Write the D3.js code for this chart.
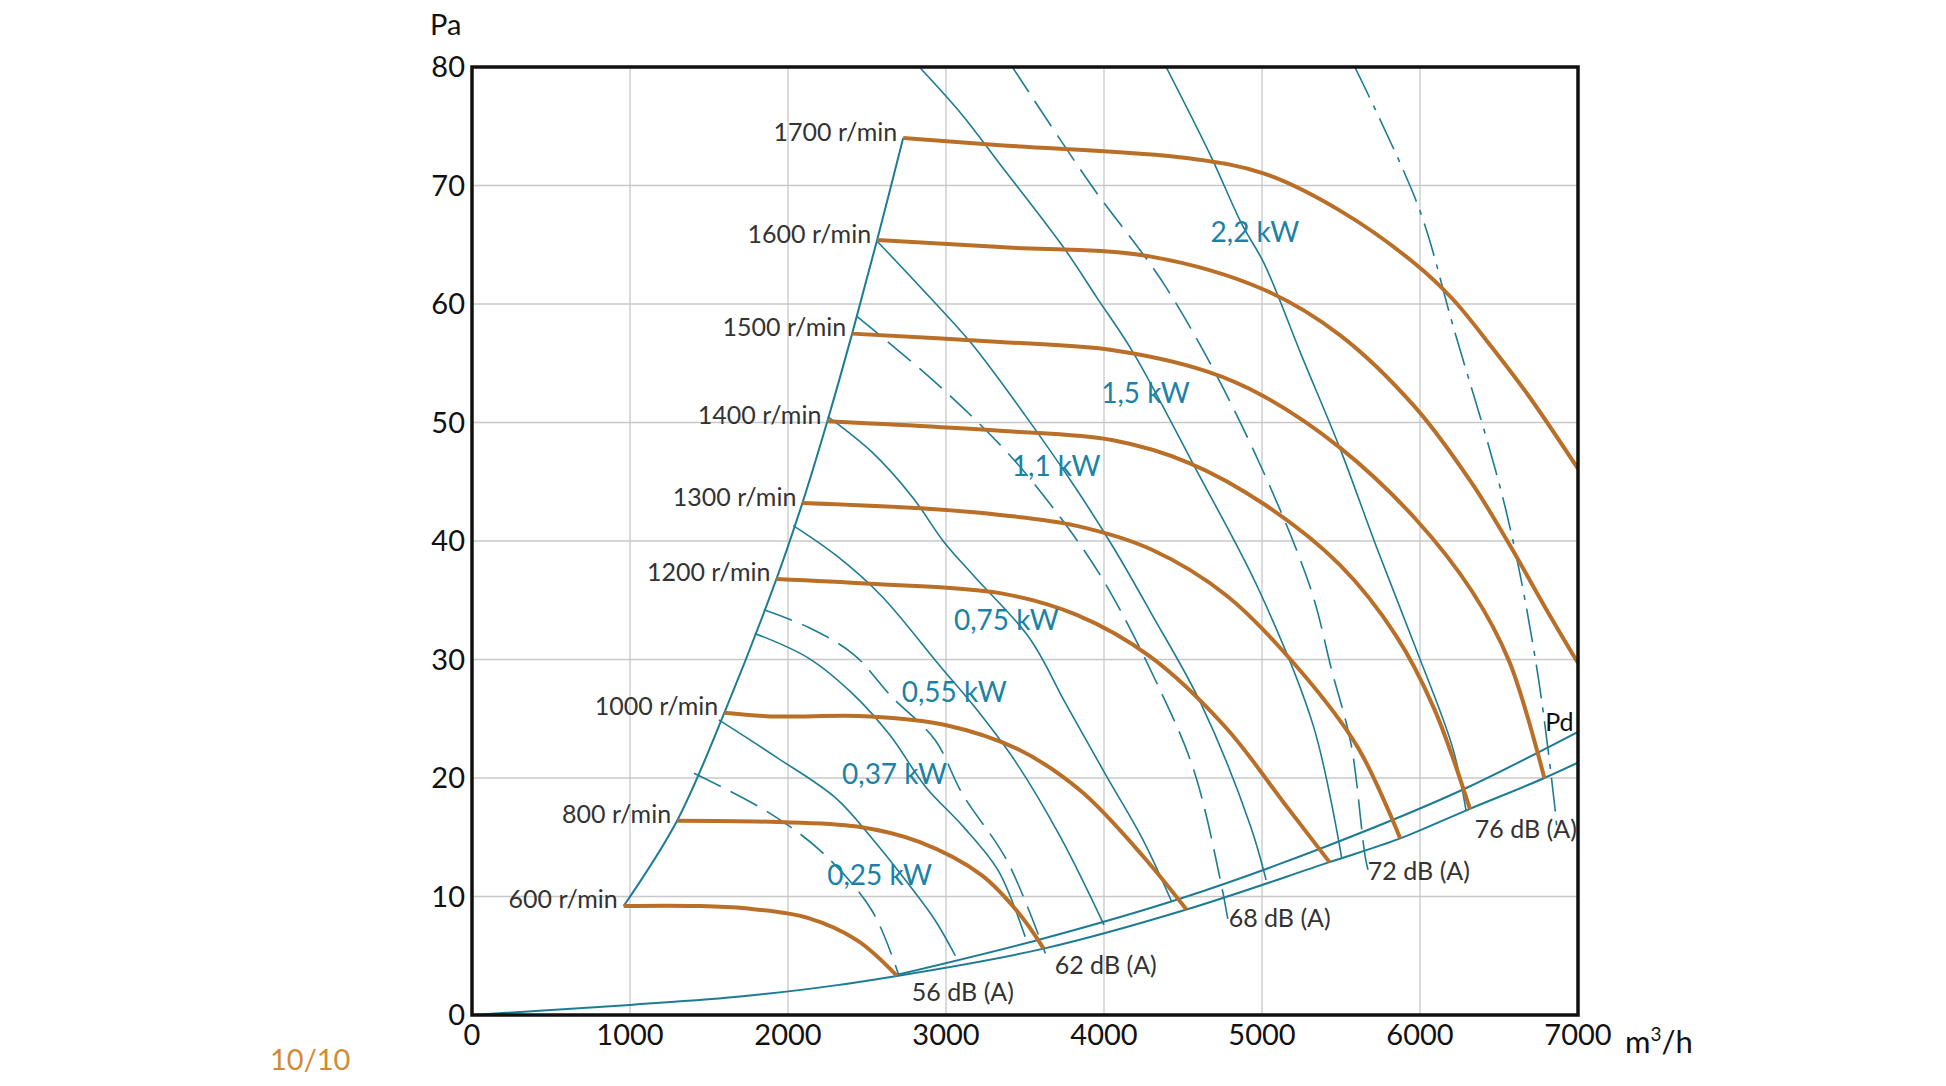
<!DOCTYPE html>
<html><head><meta charset="utf-8">
<script src="https://cdn.jsdelivr.net/npm/d3@7"></script>
<style>body{margin:0;background:#fff}svg{display:block}text{font-family:Lato,"Noto Sans",sans-serif}</style>
</head><body><svg id="c" width="1946" height="1086"></svg>
<script>
// ---- data ----
const xTicks=[0,1000,2000,3000,4000,5000,6000,7000];
const yTicks=[0,10,20,30,40,50,60,70,80];
const speeds=["600 r/min","800 r/min","1000 r/min","1200 r/min","1300 r/min","1400 r/min","1500 r/min","1600 r/min","1700 r/min"];
const rpm600=[[960,9.2],[1416,9.2],[1730,9.0],[2124,8.2],[2438,6.3],[2690,3.3]];
const rpm800=[[1298,16.4],[1888,16.3],[2438,15.9],[2831,14.6],[3225,11.8],[3460,8.6],[3618,5.6]];
const rpm1000=[[1597,25.5],[1888,25.2],[2517,25.2],[2989,24.5],[3460,22.4],[3854,18.9],[4247,13.4],[4522,8.9]];
const rpm1200=[[1927,36.8],[2517,36.4],[3342,35.6],[3820,33.8],[4297,30.2],[4775,24.2],[5133,18.0],[5427,12.9]];
const rpm1300=[[2091,43.2],[2910,42.7],[3342,42.2],[3820,41.3],[4297,39.3],[4775,35.4],[5252,28.9],[5610,22.5],[5875,14.9]];
const rpm1400=[[2249,50.1],[3342,49.3],[4058,48.5],[4536,46.6],[5014,43.1],[5491,38.0],[5849,32.0],[6088,25.9],[6316,17.4]];
const rpm1500=[[2406,57.5],[3342,56.8],[4058,56.1],[4655,54.3],[5014,52.2],[5491,47.9],[5969,41.9],[6327,35.8],[6566,29.8],[6787,20.0]];
const rpm1600=[[2564,65.4],[3342,64.8],[4297,64.0],[5014,61.2],[5491,57.4],[5969,51.3],[6327,44.9],[6566,39.7],[6805,34.1],[7000,29.7]];
const rpm1700=[[2729,74.0],[3342,73.4],[4536,72.3],[5014,71.0],[5491,67.9],[5969,63.4],[6208,60.4],[6446,56.5],[6685,52.3],[7000,46.1]];
const speedCurves=[rpm600,rpm800,rpm1000,rpm1200,rpm1300,rpm1400,rpm1500,rpm1600,rpm1700];

const pdLower=[[0,0],[1000,0.85],[1730,1.6],[2300,2.5],[2690,3.3],[3618,5.6],[4522,8.9],[5427,12.9],[5875,14.9],[6316,17.4],[6787,20.0],[7000,21.3]];
const pdUpper=[[2690,3.4],[3600,6.4],[4500,9.9],[5400,14.2],[6300,19.2],[7000,23.9]];

const kw025=[[1562,24.9],[1933,21.7],[2303,18.3],[2532,14.9],[2760,11.1],[2931,8.0],[3059,5.0]];
const kw037=[[1790,32.2],[2132,30.1],[2418,27.0],[2646,23.6],[2874,19.2],[3102,16.0],[3330,12.2],[3501,6.6]];
const kw055=[[2033,41.3],[2303,38.8],[2589,35.4],[2959,29.5],[3187,25.9],[3444,21.3],[3729,14.9],[4000,7.6]];
const kw075=[[2252,50.5],[2532,47.5],[2788,43.7],[2988,39.9],[3187,36.9],[3529,31.8],[3757,26.3],[4014,20.2],[4242,14.9],[4427,9.6]];
const kw11=[[2564,65.3],[2902,60.5],[3159,56.7],[3501,50.6],[3829,44.3],[4071,39.2],[4299,33.9],[4613,26.3],[4926,16.0],[5026,11.4]];
const kw15=[[2831,80],[3100,76],[3342,71.8],[3748,64.7],[3957,60.5],[4185,55.9],[4584,46.0],[4983,35.8],[5325,24.4],[5505,13.2]];
const kw22=[[4393,80],[4679,72.4],[4870,66.8],[5014,63.4],[5252,55.6],[5491,47.9],[5730,39.3],[5969,31.1],[6208,22.5],[6292,17.2]];
const powerCurves=[kw025,kw037,kw055,kw075,kw11,kw15,kw22];

const db56=[[1405,20.4],[1876,17.1],[2218,13.7],[2532,8.8],[2700,3.4]];
const db62=[[1847,34.2],[2132,32.7],[2418,30.4],[2646,27.0],[2931,23.2],[3102,18.7],[3387,13.0],[3629,5.2]];
const db68=[[2432,59.0],[2931,53.4],[3358,47.9],[3643,43.4],[3986,36.9],[4356,27.4],[4570,20.6],[4741,11.1],[4790,7.6]];
const db72=[[3420,80],[3915,70.1],[4393,61.4],[4870,49.8],[5300,36.3],[5443,29.0],[5563,22.9],[5658,13.0],[5690,11.4]];
const db76=[[5587,80],[5993,68.1],[6208,58.2],[6542,42.7],[6733,29.8],[6852,17.7],[6870,15.2]];
const dbCurves=[db56,db62,db68,db72,db76];

const kwLabels=[["0,25 kW",2580,11.8],["0,37 kW",2674,20.3],["0,55 kW",3052,27.2],["0,75 kW",3382,33.3],["1,1 kW",3697,46.3],["1,5 kW",4263,52.5],["2,2 kW",4955,66.1]];
const dbLabels=[["56 dB (A)",3107,1.9],["62 dB (A)",4011,4.2],["68 dB (A)",5112,8.2],["72 dB (A)",5993,12.1],["76 dB (A)",6670,15.7]];

// ---- drawing ----
const L=472,R=1578,T=67,B=1015;
const svg=d3.select("#c");
const x=d3.scaleLinear().domain([0,7000]).range([L,R]);
const y=d3.scaleLinear().domain([0,80]).range([B,T]);
const ORANGE="#b96f27",TEAL="#1d7c93";
svg.append("defs").append("clipPath").attr("id","clip").append("rect").attr("x",L).attr("y",T).attr("width",R-L).attr("height",B-T);

svg.append("g").selectAll("line").data(xTicks.slice(1,-1)).join("line")
 .attr("x1",d=>x(d)).attr("x2",d=>x(d)).attr("y1",T).attr("y2",B).attr("stroke","#c8c8c8").attr("stroke-width",1.3);
svg.append("g").selectAll("line").data(yTicks.slice(1,-1)).join("line")
 .attr("y1",d=>y(d)).attr("y2",d=>y(d)).attr("x1",L).attr("x2",R).attr("stroke","#c8c8c8").attr("stroke-width",1.3);

const g=svg.append("g").attr("clip-path","url(#clip)");
const line=d3.line().x(d=>x(d[0])).y(d=>y(d[1])).curve(d3.curveMonotoneX);
const cr=d3.line().x(d=>x(d[0])).y(d=>y(d[1])).curve(d3.curveCatmullRom.alpha(0.5));

[pdLower,pdUpper].forEach(p=>g.append("path").attr("d",line(p)).attr("fill","none").attr("stroke",TEAL).attr("stroke-width",2));
const envelope=speedCurves.map(c=>c[0]);
g.append("path").attr("d",cr(envelope)).attr("fill","none").attr("stroke",TEAL).attr("stroke-width",2);
powerCurves.forEach(p=>g.append("path").attr("d",cr(p)).attr("fill","none").attr("stroke",TEAL).attr("stroke-width",1.6));
dbCurves.forEach((p,i)=>g.append("path").attr("d",cr(p)).attr("fill","none").attr("stroke",TEAL).attr("stroke-width",1.6)
 .attr("stroke-dasharray",i===4?"34,9,5,9":"30,11"));
speedCurves.forEach(p=>g.append("path").attr("d",cr(p)).attr("fill","none").attr("stroke",ORANGE).attr("stroke-width",4));

svg.append("rect").attr("x",L).attr("y",T).attr("width",R-L).attr("height",B-T).attr("fill","none").attr("stroke","#111").attr("stroke-width",3.5);

svg.append("g").selectAll("text").data(yTicks).join("text").attr("x",L-7).attr("y",d=>y(d)).attr("dy","0.35em")
 .attr("text-anchor","end").attr("font-size",29).attr("fill","#111").text(d=>d);
svg.append("g").selectAll("text").data(xTicks).join("text").attr("x",d=>x(d)).attr("y",B+30)
 .attr("text-anchor","middle").attr("font-size",29).attr("fill","#111").text(d=>d);
svg.append("text").attr("x",430).attr("y",35).attr("font-size",29).attr("fill","#111").text("Pa");
const mt=svg.append("text").attr("x",1625).attr("y",1053).attr("font-size",31).attr("fill","#111");
mt.append("tspan").text("m");mt.append("tspan").attr("dy",-12).attr("font-size",19).text("3");mt.append("tspan").attr("dy",12).text("/h");
svg.append("text").attr("x",270).attr("y",1070).attr("font-size",29).attr("fill","#d28a36").text("10/10");

svg.append("g").selectAll("text").data(speeds).join("text").attr("x",(d,i)=>x(speedCurves[i][0][0])-6).attr("y",(d,i)=>y(speedCurves[i][0][1]))
 .attr("dy","0.1em").attr("text-anchor","end").attr("font-size",25).attr("fill","#333").text(d=>d);
svg.append("g").selectAll("text").data(kwLabels).join("text").attr("x",d=>x(d[1])).attr("y",d=>y(d[2])).attr("dy","0.35em")
 .attr("text-anchor","middle").attr("font-size",28).attr("fill","#1b82a6").text(d=>d[0]);
svg.append("g").selectAll("text").data(dbLabels).join("text").attr("x",d=>x(d[1])).attr("y",d=>y(d[2])).attr("dy","0.35em")
 .attr("text-anchor","middle").attr("font-size",25).attr("fill","#333").text(d=>d[0]);
svg.append("text").attr("x",x(6882)).attr("y",y(24.7)).attr("dy","0.35em").attr("text-anchor","middle").attr("font-size",25).attr("fill","#111").text("Pd");
</script></body></html>
